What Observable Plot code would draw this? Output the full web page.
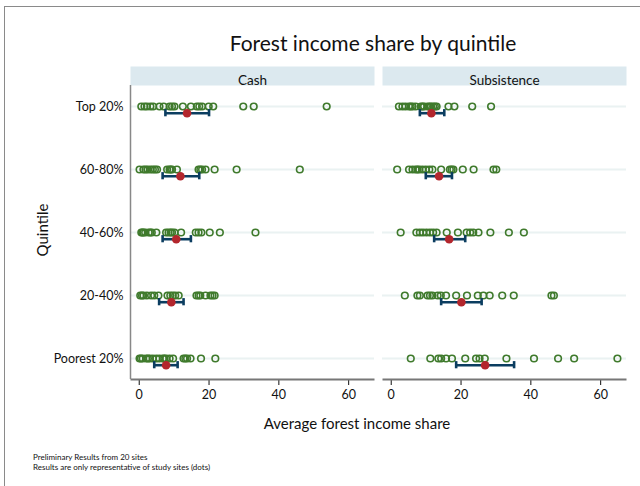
<!DOCTYPE html>
<html><head><meta charset="utf-8">
<script src="https://cdn.jsdelivr.net/npm/d3@7"></script>
<script src="https://cdn.jsdelivr.net/npm/@observablehq/plot@0.6"></script>
<style>
body{margin:0;background:#fff;font-family:Lato,"Open Sans",sans-serif;}
#wrap{position:relative;width:640px;height:486px;overflow:hidden;background:#fff;}
#border{position:absolute;left:4px;top:6px;width:700px;height:600px;border-left:1.5px solid #8a8a8a;border-top:1.5px solid #8a8a8a;}
#chart{position:absolute;left:0;top:0;}
.t{position:absolute;color:#111;white-space:nowrap;}
</style></head>
<body><div id="wrap">
<div id="border"></div>
<div id="chart"></div>
<div class="t" id="title" style="left:0;width:746px;top:30px;text-align:center;font-size:21px;">Forest income share by quintile</div>
<div class="t" style="left:0;width:714px;top:414px;text-align:center;font-size:15px;">Average forest income share</div>
<div class="t" style="left:42px;top:230px;font-size:15px;transform:translate(-50%,-50%) rotate(-90deg);">Quintile</div>
<div class="t" style="left:33px;top:452px;font-size:8px;line-height:10px;">Preliminary Results from 20 sites<br>Results are only representative of study sites (dots)</div>
</div>
<script>
const quintiles = ["Top 20%", "60-80%", "40-60%", "20-40%", "Poorest 20%"];
const panels = ["Cash", "Subsistence"];
const xTicks = [0, 20, 40, 60];

const cashSites = [
  [0.6, 1.5, 2.2, 3.2, 4.0, 5.8, 7.0, 8.7, 9.4, 10.1, 12.5, 14.8, 16.5, 17.2, 18.0, 19.9, 21.2, 29.8, 32.8, 53.7],
  [0.1, 1.2, 1.8, 2.4, 3.2, 3.9, 4.5, 5.1, 8.0, 8.7, 9.0, 9.4, 10.8, 17.0, 17.5, 18.0, 19.0, 21.6, 27.9, 46.0],
  [0.6, 0.9, 1.2, 1.7, 2.7, 3.2, 3.6, 4.9, 7.7, 8.4, 9.0, 9.4, 10.1, 12.0, 16.2, 17.0, 17.8, 20.2, 23.1, 33.3],
  [0.3, 0.8, 1.2, 2.2, 3.4, 4.3, 5.5, 8.1, 8.9, 9.6, 10.3, 11.3, 16.4, 17.0, 17.5, 19.0, 20.4, 21.0, 21.6],
  [0.1, 0.5, 1.0, 2.0, 2.5, 3.0, 3.9, 4.9, 5.8, 6.8, 7.2, 7.7, 8.7, 9.7, 12.7, 13.2, 13.7, 14.7, 17.7, 21.8]
];
const subsSites = [
  [2.2, 3.2, 4.1, 5.1, 5.6, 6.1, 7.0, 8.5, 9.0, 9.4, 10.4, 11.0, 11.4, 12.0, 12.5, 13.0, 16.4, 18.1, 23.2, 28.6],
  [1.7, 5.1, 6.1, 7.0, 7.5, 8.0, 8.9, 9.9, 10.9, 11.8, 14.3, 16.8, 17.3, 17.8, 20.5, 23.6, 29.3, 30.1],
  [2.7, 7.2, 8.2, 9.1, 10.1, 11.1, 12.0, 13.0, 15.9, 19.1, 21.6, 22.6, 23.5, 25.0, 28.4, 33.7, 38.0],
  [3.9, 7.5, 8.2, 10.4, 11.1, 11.8, 13.3, 14.2, 15.7, 18.6, 21.7, 24.8, 26.4, 28.2, 31.8, 35.1, 45.9, 46.6],
  [5.6, 11.2, 13.5, 14.3, 15.7, 17.4, 21.2, 24.3, 25.3, 26.8, 33.0, 40.9, 47.8, 52.4, 64.8]
];
const cashMean = [13.7, 11.8, 10.6, 9.2, 7.7];
const cashLow  = [7.5, 6.7, 6.7, 5.7, 4.3];
const cashHigh = [20.0, 17.2, 14.8, 12.7, 11.0];
const subsMean = [11.5, 13.7, 16.6, 20.1, 26.9];
const subsLow  = [8.2, 9.9, 12.3, 14.3, 18.6];
const subsHigh = [15.2, 17.4, 21.2, 25.9, 35.2];

const sites = [];
[[panels[0], cashSites], [panels[1], subsSites]].forEach(([p, arr]) =>
  arr.forEach((vals, i) => vals.forEach(v => sites.push({panel: p, q: quintiles[i], v}))));
const stats = [];
quintiles.forEach((q, i) => {
  stats.push({panel: panels[0], q, mean: cashMean[i], lo: cashLow[i], hi: cashHigh[i]});
  stats.push({panel: panels[1], q, mean: subsMean[i], lo: subsLow[i], hi: subsHigh[i]});
});
const caps = stats.flatMap(d => [{...d, c: d.lo}, {...d, c: d.hi}]);

const panelH = 294;
const xDomain = [-2.5, 67.4];
const chart = Plot.plot({
  width: 640,
  height: 420,
  marginTop: 85,
  marginBottom: 41,
  marginLeft: 130,
  marginRight: 13,
  style: {fontFamily: "Lato, 'Open Sans', sans-serif", fontSize: "12.5px", color: "#111", background: "transparent"},
  fx: {domain: panels, padding: 0.03, axis: null},
  x: {domain: xDomain, ticks: xTicks, tickSize: 6, tickPadding: 5, label: null, tickFormat: d => d},
  y: {type: "point", domain: quintiles, padding: 0.333, tickSize: 0, tickPadding: 7, label: null},
  marks: [
    Plot.frame({fill: "#dce9ef", stroke: null, insetTop: -19, insetBottom: panelH}),
    Plot.text(panels, {fx: d => d, text: d => d, frameAnchor: "top", dy: -10, fontSize: 13.5, fill: "#111"}),
    Plot.ruleY(stats, {fx: "panel", y: "q", stroke: "#eaf2f2", strokeWidth: 2}),
    Plot.frame({fill: "#777", stroke: null, insetTop: panelH - 1, insetBottom: -1}),
    Plot.ruleX([panels[0]], {fx: d => d, x: xDomain[0], stroke: "#888", strokeWidth: 1.5}),
    Plot.dot(sites, {fx: "panel", x: "v", y: "q", r: 3.3, stroke: "#3f7a2c", strokeWidth: 1.6, fill: "none"}),
    Plot.ruleY(stats, {fx: "panel", y: "q", x1: "lo", x2: "hi", dy: 6.7, stroke: "#0b3d60", strokeWidth: 2.6}),
    Plot.ruleX(caps, {fx: "panel", x: "c", y1: "q", y2: "q", dy: 6.7, insetTop: -3.6, insetBottom: -3.6, stroke: "#0b3d60", strokeWidth: 2.6}),
    Plot.dot(stats, {fx: "panel", x: "mean", y: "q", dy: 6.7, r: 4.3, fill: "#b3262d", stroke: null})
  ]
});
document.getElementById("chart").appendChild(chart);
</script>
</body></html>
